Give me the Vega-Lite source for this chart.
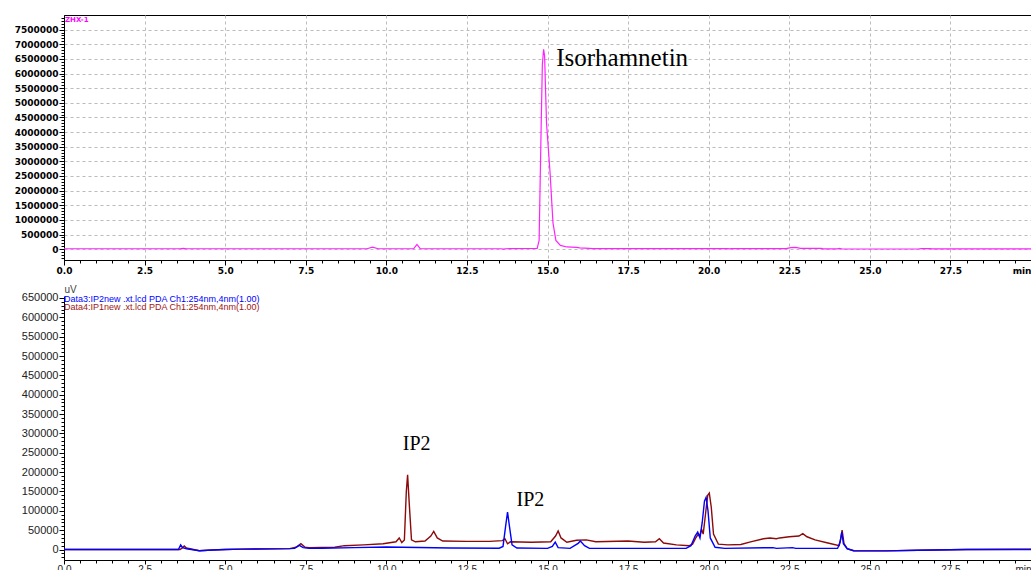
{
  "$schema": "https://vega.github.io/schema/vega-lite/v6.json",
  "padding": {"left": 5, "top": 13, "right": 1, "bottom": 0},
  "spacing": 8,
  "background": "white",
  "config": {"view": {"stroke": null}},
  "datasets": {
    "top": [
      {"t": 0, "v": 15000}, {"t": 3.6, "v": 15000}, {"t": 3.7, "v": 30000}, {"t": 3.8, "v": 15000},
      {"t": 9.4, "v": 15000}, {"t": 9.57, "v": 70000}, {"t": 9.75, "v": 15000},
      {"t": 10.85, "v": 15000}, {"t": 10.95, "v": 160000}, {"t": 11.05, "v": 15000},
      {"t": 13.55, "v": 15000}, {"t": 13.62, "v": 0}, {"t": 13.7, "v": 15000},
      {"t": 14.68, "v": 30000}, {"t": 14.74, "v": 300000}, {"t": 14.8, "v": 4000000}, {"t": 14.84, "v": 6300000},
      {"t": 14.88, "v": 6830000}, {"t": 14.91, "v": 6600000}, {"t": 14.97, "v": 4300000}, {"t": 15.08, "v": 2600000},
      {"t": 15.17, "v": 900000}, {"t": 15.26, "v": 300000}, {"t": 15.4, "v": 130000}, {"t": 15.6, "v": 75000},
      {"t": 15.9, "v": 60000}, {"t": 16.0, "v": 45000}, {"t": 16.3, "v": 30000}, {"t": 16.4, "v": 20000},
      {"t": 20.6, "v": 20000}, {"t": 20.65, "v": 10000}, {"t": 20.7, "v": 20000},
      {"t": 22.4, "v": 20000}, {"t": 22.55, "v": 50000}, {"t": 22.7, "v": 60000}, {"t": 22.85, "v": 30000},
      {"t": 23.5, "v": 25000}, {"t": 23.55, "v": 10000}, {"t": 24.0, "v": 10000}, {"t": 24.05, "v": 30000},
      {"t": 24.15, "v": 5000}, {"t": 26.5, "v": 5000}, {"t": 26.6, "v": 20000}, {"t": 26.85, "v": 20000},
      {"t": 26.95, "v": 10000}, {"t": 30, "v": 10000}
    ],
    "data3": [
      {"t": 0, "v": 0}, {"t": 3.55, "v": 0}, {"t": 3.62, "v": 12000}, {"t": 3.68, "v": 5000}, {"t": 3.8, "v": 2000},
      {"t": 4.2, "v": -3000}, {"t": 4.6, "v": -1000}, {"t": 5.0, "v": 0}, {"t": 5.5, "v": 1000}, {"t": 7.0, "v": 2500},
      {"t": 7.15, "v": 3000}, {"t": 7.3, "v": 11000}, {"t": 7.42, "v": 5000}, {"t": 7.6, "v": 3000}, {"t": 8.0, "v": 3500},
      {"t": 9.0, "v": 5000}, {"t": 10.0, "v": 6500}, {"t": 10.5, "v": 6000}, {"t": 11.5, "v": 4500}, {"t": 12.0, "v": 4000},
      {"t": 13.5, "v": 3500}, {"t": 13.62, "v": 8000}, {"t": 13.7, "v": 60000}, {"t": 13.76, "v": 97000}, {"t": 13.82, "v": 60000},
      {"t": 13.9, "v": 12000}, {"t": 14.05, "v": 4000}, {"t": 15.0, "v": 3000}, {"t": 15.15, "v": 8000}, {"t": 15.24, "v": 19000},
      {"t": 15.33, "v": 5000}, {"t": 15.7, "v": 3000}, {"t": 15.95, "v": 16000}, {"t": 16.02, "v": 22000}, {"t": 16.15, "v": 10000},
      {"t": 16.3, "v": 3000}, {"t": 19.3, "v": 3000}, {"t": 19.45, "v": 10000}, {"t": 19.58, "v": 35000}, {"t": 19.66, "v": 45000},
      {"t": 19.73, "v": 30000}, {"t": 19.8, "v": 70000}, {"t": 19.87, "v": 125000}, {"t": 19.92, "v": 135000}, {"t": 19.98, "v": 100000},
      {"t": 20.05, "v": 30000}, {"t": 20.2, "v": 6000}, {"t": 20.5, "v": 3000}, {"t": 22.0, "v": 5000}, {"t": 22.1, "v": 3000},
      {"t": 22.6, "v": 5000}, {"t": 22.7, "v": 3000}, {"t": 24.0, "v": 3000}, {"t": 24.08, "v": 20000}, {"t": 24.13, "v": 45000},
      {"t": 24.18, "v": 15000}, {"t": 24.3, "v": 2000}, {"t": 24.5, "v": -3000}, {"t": 25.5, "v": -3500}, {"t": 26.5, "v": -2000},
      {"t": 28, "v": 0}, {"t": 30, "v": 0}
    ],
    "data4": [
      {"t": 0, "v": 0}, {"t": 3.6, "v": 0}, {"t": 3.68, "v": 5000}, {"t": 3.73, "v": 9000}, {"t": 3.8, "v": 4000},
      {"t": 4.2, "v": -3000}, {"t": 4.6, "v": -1000}, {"t": 5.0, "v": 0}, {"t": 5.5, "v": 1000}, {"t": 7.0, "v": 2500},
      {"t": 7.2, "v": 6000}, {"t": 7.35, "v": 15000}, {"t": 7.48, "v": 6000}, {"t": 7.6, "v": 5000}, {"t": 8.4, "v": 6000},
      {"t": 8.7, "v": 10000}, {"t": 9.3, "v": 12000}, {"t": 9.9, "v": 15000}, {"t": 10.3, "v": 20000}, {"t": 10.4, "v": 30000},
      {"t": 10.48, "v": 18000}, {"t": 10.56, "v": 25000}, {"t": 10.62, "v": 150000}, {"t": 10.66, "v": 193000}, {"t": 10.71, "v": 120000},
      {"t": 10.78, "v": 25000}, {"t": 10.9, "v": 20000}, {"t": 11.2, "v": 22000}, {"t": 11.38, "v": 35000}, {"t": 11.47, "v": 47000},
      {"t": 11.58, "v": 30000}, {"t": 11.75, "v": 22000}, {"t": 12.5, "v": 21000}, {"t": 13.2, "v": 21000}, {"t": 13.6, "v": 23000},
      {"t": 13.68, "v": 28000}, {"t": 13.76, "v": 15000}, {"t": 13.85, "v": 20000}, {"t": 14.5, "v": 19000}, {"t": 15.1, "v": 20000},
      {"t": 15.25, "v": 35000}, {"t": 15.33, "v": 48000}, {"t": 15.42, "v": 30000}, {"t": 15.6, "v": 19000}, {"t": 15.9, "v": 24000},
      {"t": 16.2, "v": 25000}, {"t": 16.5, "v": 20000}, {"t": 17.5, "v": 22000}, {"t": 18.0, "v": 19000}, {"t": 18.35, "v": 20000},
      {"t": 18.47, "v": 28000}, {"t": 18.6, "v": 17000}, {"t": 19.0, "v": 12000}, {"t": 19.4, "v": 10000}, {"t": 19.5, "v": 14000},
      {"t": 19.6, "v": 30000}, {"t": 19.68, "v": 40000}, {"t": 19.72, "v": 35000}, {"t": 19.78, "v": 52000}, {"t": 19.83, "v": 40000},
      {"t": 19.9, "v": 90000}, {"t": 19.97, "v": 140000}, {"t": 20.02, "v": 146000}, {"t": 20.08, "v": 110000}, {"t": 20.15, "v": 40000},
      {"t": 20.3, "v": 14000}, {"t": 20.6, "v": 12000}, {"t": 21.0, "v": 13000}, {"t": 21.3, "v": 20000}, {"t": 21.7, "v": 28000},
      {"t": 21.9, "v": 30000}, {"t": 22.1, "v": 28000}, {"t": 22.2, "v": 30000}, {"t": 22.5, "v": 33000}, {"t": 22.8, "v": 35000},
      {"t": 22.92, "v": 41000}, {"t": 23.05, "v": 33000}, {"t": 23.3, "v": 25000}, {"t": 23.7, "v": 17000}, {"t": 24.05, "v": 10000},
      {"t": 24.1, "v": 30000}, {"t": 24.14, "v": 50000}, {"t": 24.2, "v": 15000}, {"t": 24.3, "v": 2000}, {"t": 24.5, "v": -3000},
      {"t": 25.5, "v": -3500}, {"t": 26.5, "v": -2000}, {"t": 28, "v": 0}, {"t": 30, "v": 1000}
    ]
  },
  "vconcat": [
    {
      "width": 967,
      "height": 245,
      "view": {"stroke": "black", "strokeWidth": 1},
      "encoding": {
        "x": {
          "field": "t", "type": "quantitative",
          "scale": {"domain": [0, 30], "nice": false, "zero": false},
          "axis": {
            "title": null,
            "values": [0,0.5,1,1.5,2,2.5,3,3.5,4,4.5,5,5.5,6,6.5,7,7.5,8,8.5,9,9.5,10,10.5,11,11.5,12,12.5,13,13.5,14,14.5,15,15.5,16,16.5,17,17.5,18,18.5,19,19.5,20,20.5,21,21.5,22,22.5,23,23.5,24,24.5,25,25.5,26,26.5,27,27.5,28,28.5,29,29.5,30],
            "labelExpr": "datum.value % 2.5 === 0 ? (datum.value === 30 ? 'min' : format(datum.value, '.1f')) : ''",
            "labelOverlap": false,
            "labelFlush": false,
            "labelAlign": {"condition": {"test": "datum.value === 30", "value": "right"}, "value": "center"},
            "labelFont": "DejaVu Sans",
            "labelFontWeight": "bold",
            "labelFontSize": 9,
            "labelColor": "black",
            "labelPadding": 1,
            "tickColor": "black",
            "tickSize": {"condition": {"test": "datum.value % 2.5 === 0", "value": 5}, "value": 3},
            "domainColor": "black",
            "grid": true,
            "gridColor": "#bbbbbb",
            "gridDash": [3, 3],
            "gridOpacity": {"condition": {"test": "datum.value % 2.5 === 0 && datum.value > 0 && datum.value < 30", "value": 1}, "value": 0}
          }
        },
        "y": {
          "field": "v", "type": "quantitative",
          "scale": {"domain": [-370000, 8000000], "nice": false, "zero": false},
          "axis": {
            "title": null,
            "values": [-300000,-200000,-100000,0,100000,200000,300000,400000,500000,600000,700000,800000,900000,1000000,1100000,1200000,1300000,1400000,1500000,1600000,1700000,1800000,1900000,2000000,2100000,2200000,2300000,2400000,2500000,2600000,2700000,2800000,2900000,3000000,3100000,3200000,3300000,3400000,3500000,3600000,3700000,3800000,3900000,4000000,4100000,4200000,4300000,4400000,4500000,4600000,4700000,4800000,4900000,5000000,5100000,5200000,5300000,5400000,5500000,5600000,5700000,5800000,5900000,6000000,6100000,6200000,6300000,6400000,6500000,6600000,6700000,6800000,6900000,7000000,7100000,7200000,7300000,7400000,7500000,7600000,7700000,7800000,7900000],
            "labelExpr": "datum.value % 500000 === 0 && datum.value >= 0 ? format(datum.value, 'd') : ''",
            "labelOverlap": false,
            "labelFlush": false,
            "labelFont": "DejaVu Sans",
            "labelFontWeight": "bold",
            "labelFontSize": 9,
            "labelColor": "black",
            "labelPadding": 1,
            "tickColor": "black",
            "tickSize": {"condition": {"test": "datum.value % 500000 === 0", "value": 5}, "value": 3},
            "domainColor": "black",
            "minExtent": 58,
            "maxExtent": 58,
            "grid": true,
            "gridColor": "#bbbbbb",
            "gridDash": [3, 3],
            "gridOpacity": {"condition": {"test": "datum.value % 500000 === 0 && datum.value >= 0", "value": 1}, "value": 0}
          }
        }
      },
      "layer": [
        {
          "data": {"name": "top"},
          "mark": {"type": "line", "color": "#ff22ff", "strokeWidth": 1.2, "clip": true}
        },
        {
          "data": {"values": [{"t": 0, "v": 8000000, "label": "ZHX-1"}]},
          "mark": {"type": "text", "align": "left", "baseline": "top", "dx": 1, "dy": 1, "font": "DejaVu Sans", "fontWeight": "bold", "fontSize": 7, "color": "#ff00ff"},
          "encoding": {"text": {"field": "label"}}
        },
        {
          "data": {"values": [{"t": 15.27, "v": 6261000, "label": "Isorhamnetin"}]},
          "mark": {"type": "text", "align": "left", "baseline": "alphabetic", "font": "Liberation Serif", "fontSize": 25, "color": "black"},
          "encoding": {"text": {"field": "label"}}
        }
      ]
    },
    {
      "width": 967,
      "height": 264,
      "encoding": {
        "x": {
          "field": "t", "type": "quantitative",
          "scale": {"domain": [0, 30], "nice": false, "zero": false},
          "axis": {
            "title": null,
            "values": [0,0.5,1,1.5,2,2.5,3,3.5,4,4.5,5,5.5,6,6.5,7,7.5,8,8.5,9,9.5,10,10.5,11,11.5,12,12.5,13,13.5,14,14.5,15,15.5,16,16.5,17,17.5,18,18.5,19,19.5,20,20.5,21,21.5,22,22.5,23,23.5,24,24.5,25,25.5,26,26.5,27,27.5,28,28.5,29,29.5,30],
            "labelExpr": "datum.value % 2.5 === 0 ? (datum.value === 30 ? 'min' : format(datum.value, '.1f')) : ''",
            "labelOverlap": false,
            "labelFlush": false,
            "labelAlign": {"condition": {"test": "datum.value === 30", "value": "right"}, "value": "center"},
            "labelFont": "Liberation Sans",
            "labelFontSize": 10,
            "labelColor": "#222222",
            "labelPadding": 0,
            "tickColor": "black",
            "tickSize": {"condition": {"test": "datum.value % 2.5 === 0", "value": 4}, "value": 3},
            "domainColor": "black",
            "grid": false
          }
        },
        "y": {
          "field": "v", "type": "quantitative",
          "scale": {"domain": [-27000, 655000], "nice": false, "zero": false},
          "axis": {
            "title": "uV",
            "titleAngle": 0,
            "titleX": 6,
            "titleY": -7,
            "titleAlign": "center",
            "titleBaseline": "middle",
            "titleFont": "Liberation Sans",
            "titleFontWeight": "normal",
            "titleFontSize": 10,
            "titleColor": "#444444",
            "values": [-20000,-10000,0,10000,20000,30000,40000,50000,60000,70000,80000,90000,100000,110000,120000,130000,140000,150000,160000,170000,180000,190000,200000,210000,220000,230000,240000,250000,260000,270000,280000,290000,300000,310000,320000,330000,340000,350000,360000,370000,380000,390000,400000,410000,420000,430000,440000,450000,460000,470000,480000,490000,500000,510000,520000,530000,540000,550000,560000,570000,580000,590000,600000,610000,620000,630000,640000,650000],
            "labelExpr": "datum.value % 50000 === 0 && datum.value >= 0 ? format(datum.value, 'd') : ''",
            "labelOverlap": false,
            "labelFlush": false,
            "labelFont": "Liberation Sans",
            "labelFontSize": 11,
            "labelColor": "#222222",
            "labelPadding": 1,
            "tickColor": "black",
            "tickSize": {"condition": {"test": "datum.value % 50000 === 0", "value": 5}, "value": 3},
            "domainColor": "black",
            "minExtent": 58,
            "maxExtent": 58,
            "grid": false
          }
        }
      },
      "layer": [
        {
          "data": {"name": "data4"},
          "mark": {"type": "line", "color": "#8b0a0a", "strokeWidth": 1.4, "clip": true}
        },
        {
          "data": {"name": "data3"},
          "mark": {"type": "line", "color": "#0000ff", "strokeWidth": 1.4, "clip": true}
        },
        {
          "data": {"values": [
            {"t": 0, "v": 648000, "label": "Data3:IP2new .xt.lcd PDA Ch1:254nm,4nm(1.00)", "s": "Data3"},
            {"t": 0, "v": 626000, "label": "Data4:IP1new .xt.lcd PDA Ch1:254nm,4nm(1.00)", "s": "Data4"}
          ]},
          "mark": {"type": "text", "align": "left", "baseline": "middle", "font": "Liberation Sans", "fontSize": 9},
          "encoding": {
            "text": {"field": "label"},
            "color": {"field": "s", "type": "nominal", "scale": {"domain": ["Data3", "Data4"], "range": ["#0000ff", "#a01515"]}, "legend": null}
          }
        },
        {
          "data": {"values": [
            {"t": 10.51, "v": 256300, "label": "IP2"},
            {"t": 14.04, "v": 112400, "label": "IP2"}
          ]},
          "mark": {"type": "text", "align": "left", "baseline": "alphabetic", "font": "Liberation Serif", "fontSize": 20, "color": "black"},
          "encoding": {"text": {"field": "label"}}
        }
      ]
    }
  ]
}
